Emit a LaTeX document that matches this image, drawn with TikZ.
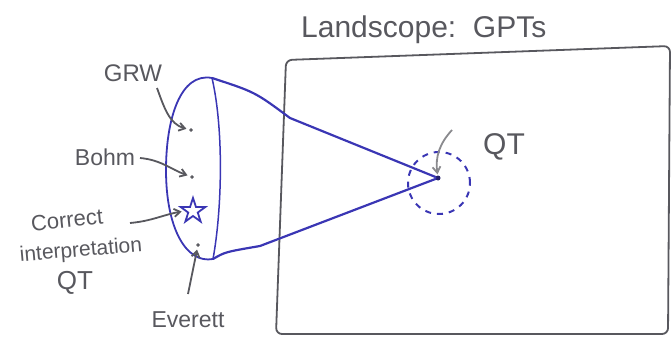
\documentclass[tikz,border=0pt]{standalone}
\usepackage{fontspec}
\setmainfont{Liberation Sans}
\usetikzlibrary{shapes.geometric,arrows.meta,calc}
\definecolor{pen}{HTML}{3A36B4}
\definecolor{ink}{HTML}{58585E}
\tikzset{
  hand/.style={text=ink, inner sep=1pt},
  bluepen/.style={draw=pen, line width=2.2pt, line cap=round, line join=round},
  graypen/.style={draw=ink, line width=1.8pt, line cap=round, line join=round},
  pointer/.style={draw=ink, line width=1.8pt, shorten >=3pt, -{Straight Barb[length=6pt,width=8pt,line width=1.8pt]}},
  pt/.style={circle, draw=ink, fill=ink, inner sep=0pt, minimum size=3pt},
}
\begin{document}
\begin{tikzpicture}[x=1pt,y=-1pt]
\useasboundingbox (0,0) rectangle (671,345);
% landscape rectangle
\coordinate (r1) at (286,60);
\coordinate (r2) at (670,46);
\coordinate (r3) at (668,334);
\coordinate (r4) at (276,334);
\draw[graypen, rounded corners=6pt] (r1) -- (r2) -- (r3) -- (r4) -- cycle;
\node[hand, anchor=west, font=\fontsize{30}{30}\selectfont] (land) at (300,30) {Landscope:\ \ GPTs};
% interpretation set
\coordinate (et) at (212,78);
\coordinate (eb) at (213,259);
\draw[bluepen, line width=1.8pt] (et) .. controls (180,72) and (166,120) .. (166,170)
  .. controls (166,228) and (186,264) .. (eb);
\draw[bluepen, line width=1.5pt] (et) .. controls (224,130) and (222,210) .. (eb);
% QT point
\node[circle, fill=pen!60!black, inner sep=0pt, minimum size=5pt] (qt) at (438,178) {};
\node[circle, draw=pen, line width=2pt, dash pattern=on 6pt off 6pt, minimum size=62pt] (qtc) at (439,183) {};
% cone
\draw[bluepen] (et) .. controls (255,92) .. (290,118) -- (qt);
\draw[bluepen] (eb) .. controls (225,252) .. (260,246) -- (qt);
% QT label
\node[hand, font=\fontsize{30}{30}\selectfont] (qtl) at (504,147) {QT};
\coordinate (qa) at (452,130);
\draw[pointer, draw=ink!70, shorten >=1pt] (qa) to[bend right=25] (qt);
% points inside
\node[pt] (grw) at (191,130) {};
\node[pt] (bohm) at (192,177) {};
\node[star, star points=5, star point ratio=2.6, draw=pen, line width=1.8pt, minimum size=26pt, inner sep=0pt] (cor) at (193,211) {};
\node[pt] (ev) at (198,245) {};
% labels
\node[hand, font=\fontsize{24}{24}\selectfont] (lgrw) at (133,73) {GRW};
\node[hand, font=\fontsize{23}{23}\selectfont] (lbohm) at (105,157) {Bohm};
\node[hand, font=\fontsize{22}{22}\selectfont, rotate=6] (lcor) at (67,220) {Correct};
\node[hand, font=\fontsize{21}{21}\selectfont, rotate=5] (lint) at (81,251) {interpretation};
\node[hand, font=\fontsize{26}{26}\selectfont] (lqt) at (75,283) {QT};
\node[hand, font=\fontsize{23}{23}\selectfont] (lev) at (188,320) {Everett};
% pointers
\coordinate (g0) at (157,88);
\coordinate (b0) at (140,158);
\coordinate (c0) at (130,223);
\coordinate (e0) at (188,294);
\draw[pointer] (g0) to[out=-70, in=165] (grw);
\draw[pointer] (b0) to[out=-5, in=160] (bohm);
\draw[pointer] (c0) to[out=5, in=190] (cor.west);
\draw[pointer] (e0) -- (ev);
\end{tikzpicture}
\end{document}
